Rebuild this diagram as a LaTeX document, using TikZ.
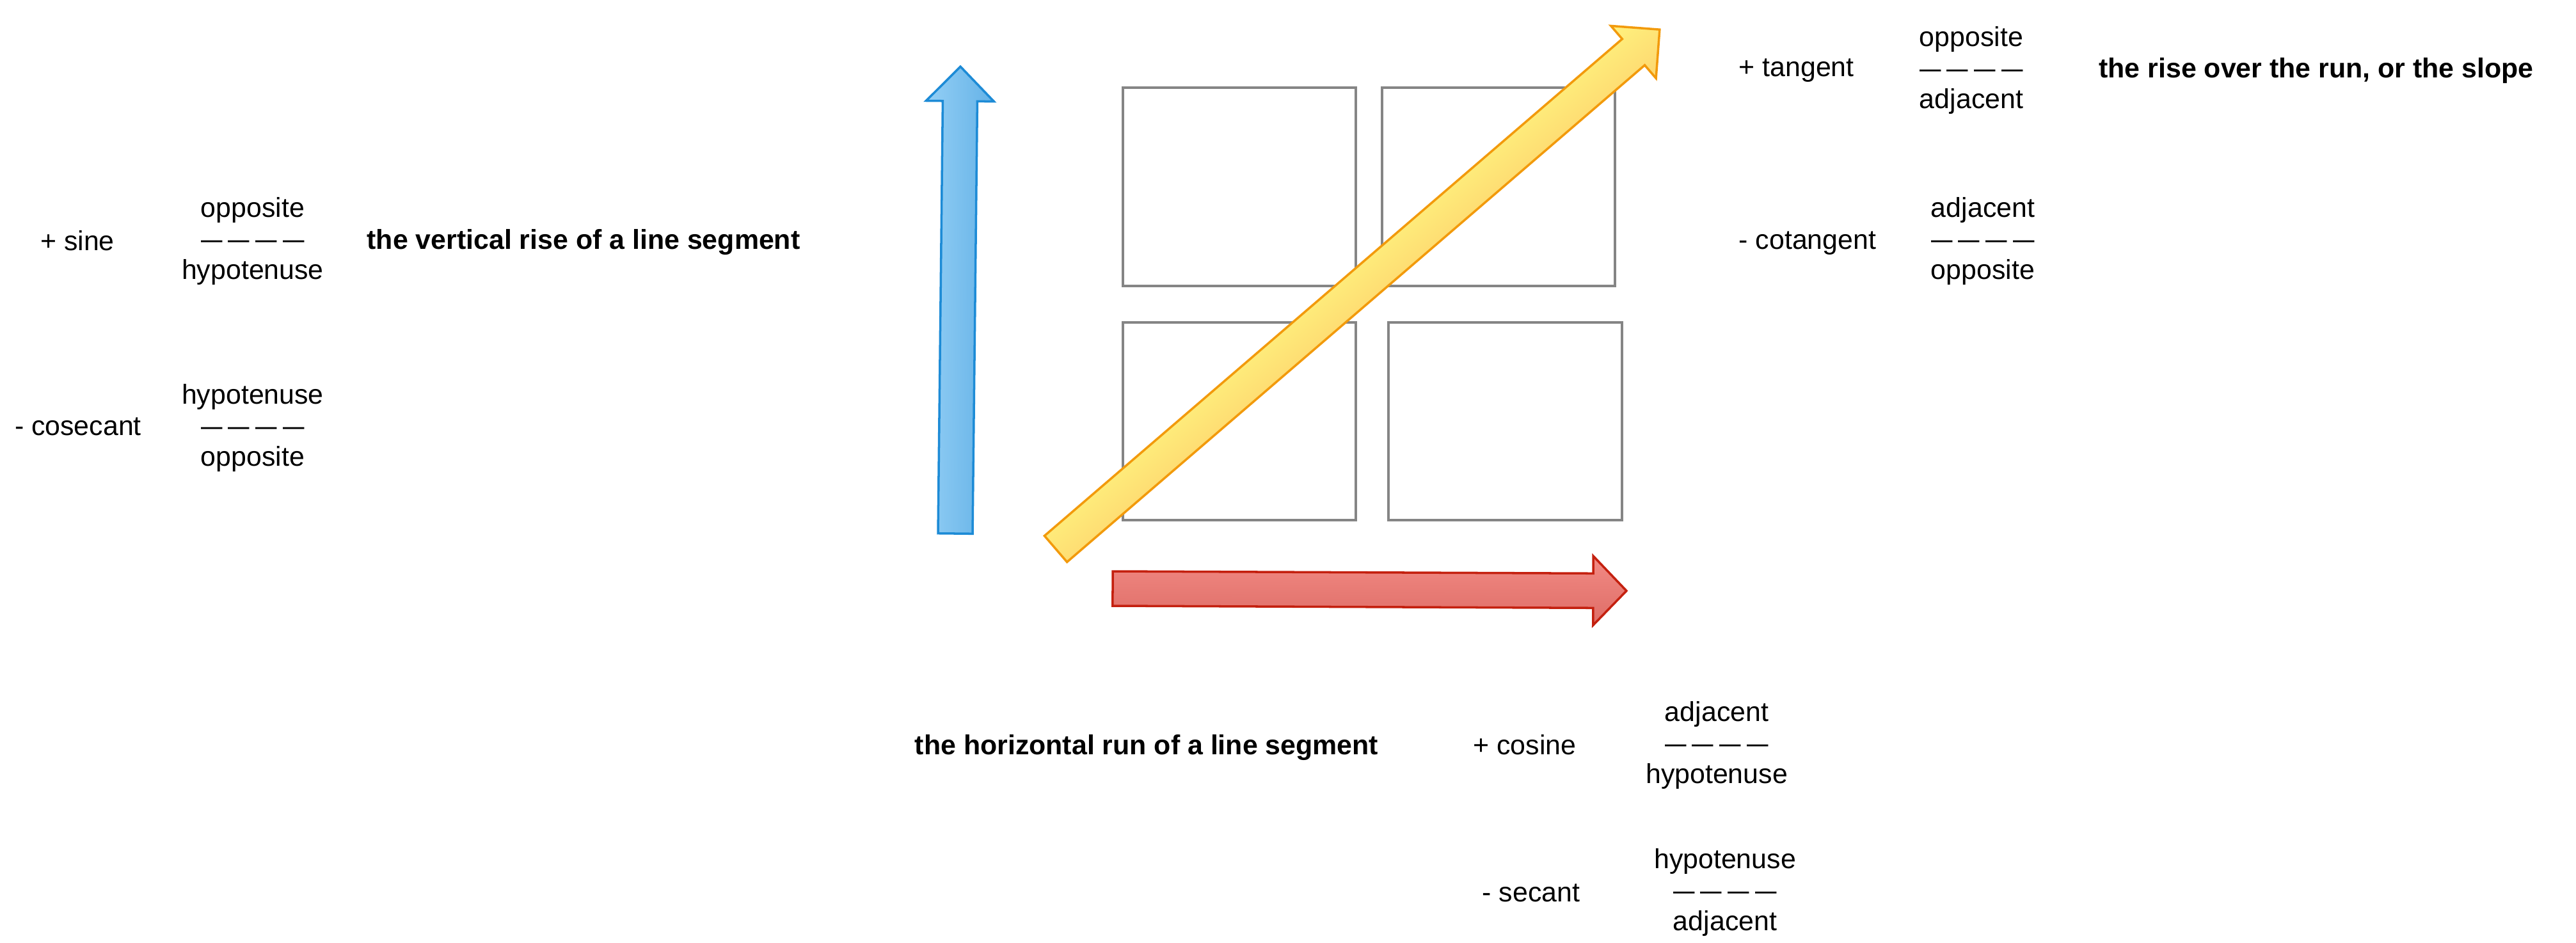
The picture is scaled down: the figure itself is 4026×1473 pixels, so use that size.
\documentclass[tikz,border=0pt]{standalone}
\usepackage{fontspec}
\setmainfont{Liberation Sans}
\usepackage{graphicx}

\definecolor{cellgray}{HTML}{858585}
\definecolor{riseline}{HTML}{1D8BD6}
\definecolor{risetop}{HTML}{94CFF5}
\definecolor{risebot}{HTML}{64B2E7}
\definecolor{runline}{HTML}{C4200F}
\definecolor{runtop}{HTML}{F28A84}
\definecolor{runbot}{HTML}{DE6D67}
\definecolor{slopeline}{HTML}{F29A0C}
\definecolor{slopetop}{HTML}{FFF27E}
\definecolor{slopebot}{HTML}{FDD66F}

\newcommand{\bardash}{\scalebox{.78}[1]{— — — —}}

\begin{document}
\begin{tikzpicture}[x=0.1mm,y=-0.1mm,
    txt/.style={font=\fontsize{12.2}{13.9}\selectfont, inner sep=0pt, align=center},
    note/.style={txt, font=\fontsize{12.2}{13.9}\selectfont\bfseries},
    cell/.style={draw=cellgray, line width=1pt},
    fat/.style={line width=1pt, line join=miter}]
  \useasboundingbox (0,0) rectangle (4026,1473);

  % the four cells
  \draw[cell] (1755,137) rectangle (2119,447);
  \draw[cell] (2160,137) rectangle (2524,447);
  \draw[cell] (1755,504) rectangle (2119,813);
  \draw[cell] (2170,504) rectangle (2535,813);

  % rise, run and slope arrows
  \begin{scope}[transform canvas={shift={(1493,834)},rotate=89.37}]
    \draw[fat, draw=riseline, top color=risetop, bottom color=risebot]
      (0,-27) -- (676,-27) -- (676,-53) -- (730,0) -- (676,53) -- (676,27) -- (0,27) -- cycle;
  \end{scope}
  \begin{scope}[transform canvas={shift={(1739,920)},rotate=-0.25}]
    \draw[fat, draw=runline, top color=runtop, bottom color=runbot]
      (0,-27) -- (751,-27) -- (751,-54) -- (803,0) -- (751,54) -- (751,27) -- (0,27) -- cycle;
  \end{scope}
  \begin{scope}[transform canvas={shift={(1650,858)},rotate=40.7}]
    \draw[fat, draw=slopeline, top color=slopetop, bottom color=slopebot]
      (0,-27) -- (1191,-27) -- (1191,-54) -- (1245,0) -- (1191,54) -- (1191,27) -- (0,27) -- cycle;
  \end{scope}

  % sine and cosecant
  \node[txt] (sine) at (121,376) {+ sine};
  \node[txt] (sinefrac) at (395,377) {opposite\\\bardash\\hypotenuse};
  \node[note, anchor=west] (rise) at (573,378) {the vertical rise of a line segment};
  \node[txt] (csc) at (122,667) {- cosecant};
  \node[txt] (cscfrac) at (395,669) {hypotenuse\\\bardash\\opposite};

  % tangent and cotangent
  \node[txt, anchor=west] (tan) at (2717,110) {+ tangent};
  \node[txt] (tanfrac) at (3081,110) {opposite\\\bardash\\adjacent};
  \node[note] (slope) at (3620,110) {the rise over the run, or the slope};
  \node[txt, anchor=west] (cot) at (2717,380) {- cotangent};
  \node[txt] (cotfrac) at (3099,377) {adjacent\\\bardash\\opposite};

  % cosine and secant
  \node[note] (run) at (1792,1168) {the horizontal run of a line segment};
  \node[txt] (cos) at (2383,1164) {+ cosine};
  \node[txt] (cosfrac) at (2683,1165) {adjacent\\\bardash\\hypotenuse};
  \node[txt] (sec) at (2393,1396) {- secant};
  \node[txt] (secfrac) at (2696,1395) {hypotenuse\\\bardash\\adjacent};
\end{tikzpicture}
\end{document}
